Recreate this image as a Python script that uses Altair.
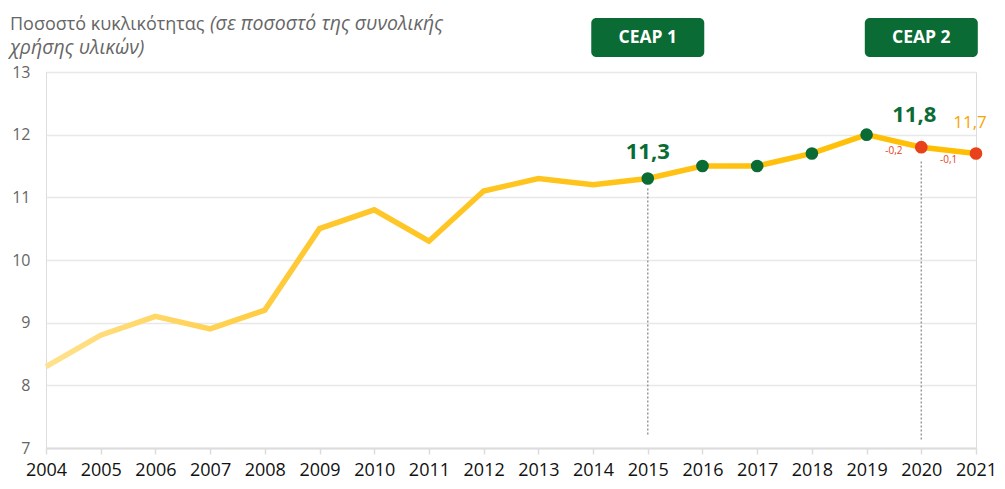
import altair as alt
import pandas as pd

years = list(range(2004, 2022))
values = [8.3, 8.8, 9.1, 8.9, 9.2, 10.5, 10.8, 10.3, 11.1, 11.3, 11.2, 11.3, 11.5, 11.5, 11.7, 12.0, 11.8, 11.7]

green_years = [2015, 2016, 2017, 2018, 2019]
red_years = [2020, 2021]

big_labels = ["11,3", "11,8"]
big_label_years = [2015, 2020]
last_label = "11,7"

change_labels = ["-0,2", "-0,1"]
change_x = [2019.5, 2020.5]
change_y = [11.9, 11.75]

ceap_labels = ["CEAP 1", "CEAP 2"]
ceap_years = [2015, 2020]

rule_years = [2015, 2020]
rule_top = [11.14, 11.57]
rule_bottom = [7.19, 7.11]

GREEN = "#0A6B34"
RED = "#E8411B"
ORANGE = "#F6A500"
FONT = "Open Sans"

df = pd.DataFrame({"year": years, "value": values})
vals = dict(zip(years, values))
pts = pd.DataFrame({
    "year": green_years + red_years,
    "value": [vals[y] for y in green_years + red_years],
    "kind": ["g"] * len(green_years) + ["r"] * len(red_years),
})

xscale = alt.Scale(domain=[2004, 2021], nice=False, zero=False)
yscale = alt.Scale(domain=[7, 13], nice=False, zero=False)

X = alt.X("year:Q", scale=xscale, axis=alt.Axis(
    values=years, format="d", title=None, grid=False,
    domainColor="#dcdcdc", domainWidth=2, tickColor="#dcdcdc", tickWidth=1.5, tickSize=6,
    labelColor="#111111", labelFontSize=18, labelFont=FONT, labelPadding=7,
    labelFlush=False))
Y = alt.Y("value:Q", scale=yscale, axis=alt.Axis(
    values=[7, 8, 9, 10, 11, 12, 13], format="d", title=None, domain=False, ticks=False,
    gridColor="#e8e8e8", gridWidth=1.5,
    labelColor="#666666", labelFontSize=16, labelFont=FONT, labelPadding=16))

grad = alt.Gradient(
    gradient="linear",
    stops=[alt.GradientStop(color="#FFE28E", offset=0),
           alt.GradientStop(color="#FFC72C", offset=0.3),
           alt.GradientStop(color="#FFBE00", offset=1)],
    x1=0, x2=1, y1=0, y2=0)

line = alt.Chart(df).mark_line(color=grad, strokeWidth=5.5, strokeCap="butt", strokeJoin="miter").encode(x=X, y=Y)

rules_df = pd.DataFrame({"year": rule_years, "top": rule_top, "bottom": rule_bottom})
rules = alt.Chart(rules_df).mark_rule(color="#999999", strokeDash=[2, 2], strokeWidth=1.5).encode(
    x=alt.X("year:Q", scale=xscale), y=alt.Y("top:Q", scale=yscale), y2="bottom:Q")

points = alt.Chart(pts).mark_circle(size=160, opacity=1).encode(
    x=alt.X("year:Q", scale=xscale), y=alt.Y("value:Q", scale=yscale),
    color=alt.Color("kind:N", scale=alt.Scale(domain=["g", "r"], range=[GREEN, RED]), legend=None))

big_df = pd.DataFrame({"year": big_label_years, "value": [vals[y] for y in big_label_years],
                       "label": big_labels})
big1 = alt.Chart(big_df.iloc[[0]]).mark_text(font=FONT, fontSize=22, fontWeight="bold", color=GREEN,
                                             baseline="alphabetic", dy=-20).encode(
    x=alt.X("year:Q", scale=xscale), y=alt.Y("value:Q", scale=yscale), text="label:N")
big2 = alt.Chart(big_df.iloc[[1]]).mark_text(font=FONT, fontSize=22, fontWeight="bold", color=GREEN,
                                             baseline="alphabetic", dy=-25, dx=-7).encode(
    x=alt.X("year:Q", scale=xscale), y=alt.Y("value:Q", scale=yscale), text="label:N")
last_df = pd.DataFrame({"year": [2021], "value": [vals[2021]], "label": [last_label]})
last = alt.Chart(last_df).mark_text(font=FONT, fontSize=17, color=ORANGE,
                                    baseline="alphabetic", dy=-25, dx=-6).encode(
    x=alt.X("year:Q", scale=xscale), y=alt.Y("value:Q", scale=yscale), text="label:N")

chg_df = pd.DataFrame({"year": change_x, "value": change_y, "label": change_labels})
chg = alt.Chart(chg_df).mark_text(font=FONT, fontSize=10, color=RED, baseline="middle", dy=10).encode(
    x=alt.X("year:Q", scale=xscale), y=alt.Y("value:Q", scale=yscale), text="label:N")

ceap_df = pd.DataFrame({"year": ceap_years, "label": ceap_labels})
ceap_box = alt.Chart(ceap_df).mark_rect(width=113, height=39, cornerRadius=5, color=GREEN).encode(
    x=alt.X("year:Q", scale=xscale), y=alt.value(-34.5))
ceap_txt = alt.Chart(ceap_df).mark_text(font=FONT, fontSize=17.5, fontWeight="bold", color="white",
                                        baseline="middle").encode(
    x=alt.X("year:Q", scale=xscale), y=alt.value(-34.5), text="label:N")

title_df = pd.DataFrame({"t1": ["Ποσοστό κυκλικότητας"], "t2": ["(σε ποσοστό της συνολικής"],
                         "t3": ["χρήσης υλικών)"]})
t1 = alt.Chart(title_df).mark_text(font=FONT, fontSize=18, color="#666666", align="left",
                                   baseline="alphabetic").encode(
    x=alt.value(-36), y=alt.value(-42), text="t1:N")
t2 = alt.Chart(title_df).mark_text(font=FONT, fontSize=19.5, color="#666666", align="left",
                                   baseline="alphabetic", fontStyle="italic").encode(
    x=alt.value(164), y=alt.value(-42), text="t2:N")
t3 = alt.Chart(title_df).mark_text(font=FONT, fontSize=19.5, color="#666666", align="left",
                                   baseline="alphabetic", fontStyle="italic").encode(
    x=alt.value(-36), y=alt.value(-18), text="t3:N")

chart = alt.layer(line, rules, points, big1, big2, last, chg, ceap_box, ceap_txt, t1, t2, t3).properties(
    width=930, height=376,
    autosize=alt.AutoSizeParams(type="none"),
    padding={"left": 38, "top": 64, "right": 21, "bottom": 33},
).configure_view(stroke=None).configure(background="white")

chart.save("out.html", embed_options={"renderer": "svg", "actions": False})
